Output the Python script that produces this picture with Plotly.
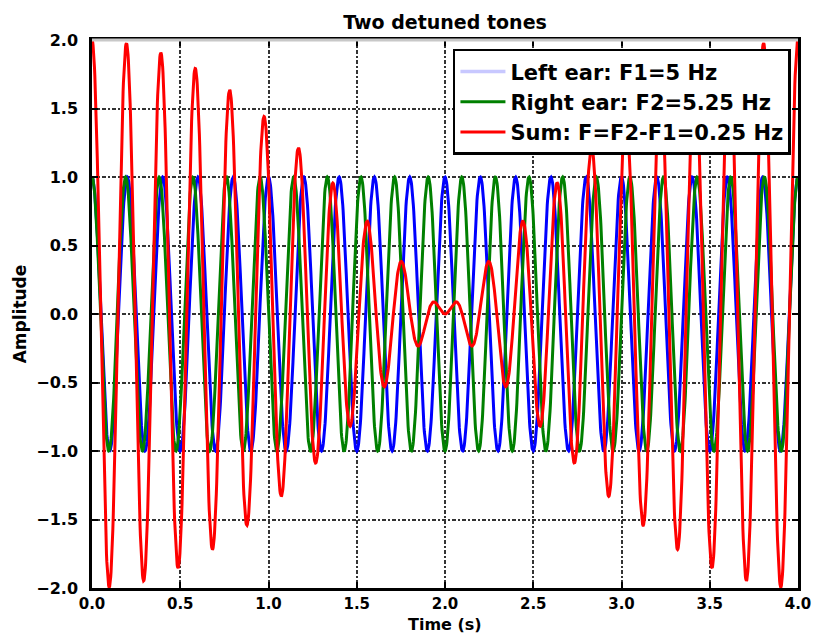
import numpy as np
import plotly.graph_objects as go

# Tone parameters (Hz) and labels as shown in the legend
F1 = 5.0
F2 = 5.25
DURATION = 4.0
N_SAMPLES = 2000
labels = ["Left ear: F1=5 Hz", "Right ear: F2=5.25 Hz", "Sum: F=F2-F1=0.25 Hz"]
colors = ["#0000ff", "#008000", "#ff0000"]
legend_left_color = "#c8c8ff"

x_ticks = [0.0, 0.5, 1.0, 1.5, 2.0, 2.5, 3.0, 3.5, 4.0]
y_ticks = [-2.0, -1.5, -1.0, -0.5, 0.0, 0.5, 1.0, 1.5, 2.0]

t = np.linspace(0.0, DURATION, N_SAMPLES)
left = np.cos(2 * np.pi * F1 * t)
right = np.cos(2 * np.pi * F2 * t)
total = left + right

FONT = "DejaVu Sans"
fig = go.Figure()

# legend proxy for the left-ear tone
fig.add_trace(go.Scatter(x=[None], y=[None], mode="lines", name=labels[0],
                         line=dict(color=legend_left_color, width=3.5)))
fig.add_trace(go.Scatter(x=t, y=left, mode="lines", name=labels[0], showlegend=False,
                         line=dict(color=colors[0], width=3)))
fig.add_trace(go.Scatter(x=t, y=right, mode="lines", name=labels[1],
                         line=dict(color=colors[1], width=3)))
fig.add_trace(go.Scatter(x=t, y=total, mode="lines", name=labels[2],
                         line=dict(color=colors[2], width=3)))

axis_common = dict(
    showline=True, linecolor="black", linewidth=2.5, mirror="ticks",
    ticks="inside", ticklen=6, tickwidth=2, tickcolor="black",
    showgrid=True, gridcolor="#333333", gridwidth=1.8, griddash="4px,2px,2px,2px",
    zeroline=False, automargin=False,
    tickfont=dict(family=FONT, size=16, color="black", weight="bold"),
)

fig.update_xaxes(range=[0, 4], tickvals=x_ticks, tickformat=".1f",
                 ticklabelstandoff=0, **axis_common)
fig.update_xaxes(tickfont_size=15)
fig.update_yaxes(range=[-2, 2], tickvals=y_ticks, tickformat=".1f",
                 ticklabelstandoff=8,
                 title=dict(text="Amplitude", standoff=6,
                            font=dict(family=FONT, size=17, color="black", weight="bold")),
                 **axis_common)

L, R, T, B = 92, 16, 40, 49
plot_h = 637 - T - B

fig.update_layout(
    width=814, height=637,
    margin=dict(l=L, r=R, t=T, b=B),
    paper_bgcolor="white", plot_bgcolor="white",
    title=dict(text="Two detuned tones", x=(L + 814 - R) / 2 / 814, xanchor="center",
               y=1 - 22 / 637, yanchor="middle",
               font=dict(family=FONT, size=19, color="black", weight="bold")),
    legend=dict(x=0.99, y=0.984, xanchor="right", yanchor="top",
                bgcolor="white", bordercolor="black", borderwidth=2.5,
                font=dict(family=FONT, size=21, color="black", weight="bold"),
                itemwidth=45),
    shapes=[dict(type="line", xref="paper", yref="paper", x0=0, x1=1, y0=1, y1=1,
                 line=dict(color="#c8c8c8", width=3), layer="above")],
    annotations=[dict(text="Time (s)", xref="paper", yref="paper", x=0.5,
                      y=-(B - 1) / plot_h, xanchor="center", yanchor="bottom",
                      showarrow=False,
                      font=dict(family=FONT, size=16, color="black", weight="bold"))],
    showlegend=True,
)

fig.write_html("out.html")
